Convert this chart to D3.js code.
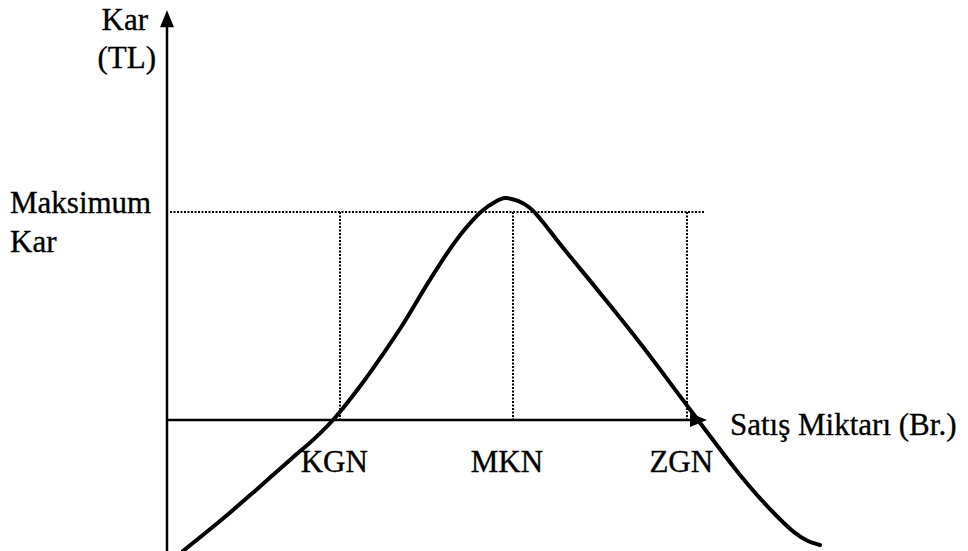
<!DOCTYPE html>
<html>
<head>
<meta charset="utf-8">
<script src="https://cdn.jsdelivr.net/npm/d3@7"></script>
<style>
  html, body { margin: 0; padding: 0; background: #fff; }
  svg { display: block; }
  text { font-family: "Liberation Serif", "Times New Roman", serif; font-size: 31px; fill: #000; stroke: #000; stroke-width: 0.35px; }
</style>
</head>
<body>
<svg width="968" height="551"></svg>
<script>
// Profit curve (sales quantity, profit); 100 = maximum profit level
const curveX = [2.97, 9.85, 16.36, 22.86, 27.51, 30.86, 35.5, 40.15, 44.24, 48.51, 52.23, 55.39, 58.55, 60.97, 62.83, 65.24, 67.47, 69.7, 73.05, 80.48, 87.92, 95.35, 100.93, 106.51, 112.08, 116.73, 119.14, 121.38];
const curveY = [-63, -48.6, -34.1, -19.2, -8.7, 0, 14.9, 31.7, 47.6, 65.9, 80.8, 91.8, 100.5, 104.8, 106.7, 105.3, 101.9, 95.7, 84.6, 61.1, 37, 11.5, -7.7, -26.4, -42.8, -54.3, -58.2, -60.1];

// reference points on the sales axis
const pointLabels = ['KGN', 'MKN', 'ZGN'];
const pointX = [32.2, 64.3, 96.7];
const maxProfit = 100;

const svg = d3.select('svg');

// scales: x axis runs 0..100, y axis spans the visible profit range
const x = d3.scaleLinear().domain([0, 100]).range([167, 705]);
const y = d3.scaleLinear().domain([0, 100]).range([420, 212]);
const yTop = 197, yBottom = -63;

// dotted guide lines
svg.append('line')
  .attr('x1', x(0) + 3).attr('x2', x(100))
  .attr('y1', Math.round(y(maxProfit))).attr('y2', Math.round(y(maxProfit)))
  .attr('stroke', '#000').attr('stroke-width', 2).attr('stroke-dasharray', '2,1.5');

svg.selectAll('.guide')
  .data(pointX)
  .join('line')
  .attr('class', 'guide')
  .attr('x1', d => Math.round(x(d))).attr('x2', d => Math.round(x(d)))
  .attr('y1', y(maxProfit)).attr('y2', y(0))
  .attr('stroke', '#000').attr('stroke-width', 2).attr('stroke-dasharray', '2,1.5');

// axes
svg.append('line')
  .attr('x1', x(0)).attr('x2', x(0))
  .attr('y1', y(yBottom) + 2).attr('y2', y(yTop) + 12)
  .attr('stroke', '#000').attr('stroke-width', 2.5);
svg.append('path')
  .attr('d', `M${x(0)},${y(yTop)} L${x(0) - 7},${y(yTop) + 17} L${x(0) + 7},${y(yTop) + 17} Z`)
  .attr('fill', '#000');

svg.append('line')
  .attr('x1', x(0)).attr('x2', x(100) - 12)
  .attr('y1', y(0)).attr('y2', y(0))
  .attr('stroke', '#000').attr('stroke-width', 2.5);
svg.append('path')
  .attr('d', `M${x(100) + 2},${y(0)} L${x(100) - 15},${y(0) - 7} L${x(100) - 15},${y(0) + 7} Z`)
  .attr('fill', '#000');

// profit curve
const line = d3.line()
  .x((d, i) => x(curveX[i]))
  .y((d, i) => y(curveY[i]))
  .curve(d3.curveCatmullRom.alpha(0.5));

svg.append('path')
  .datum(curveX)
  .attr('d', line)
  .attr('fill', 'none')
  .attr('stroke', '#000')
  .attr('stroke-width', 4)
  .attr('stroke-linecap', 'round')
  .attr('stroke-linejoin', 'round');

// labels
svg.append('text').attr('x', x(0) - 19).attr('y', 30).attr('text-anchor', 'end').text('Kar');
svg.append('text').attr('x', x(0) - 11).attr('y', 68).attr('text-anchor', 'end').text('(TL)');
svg.append('text').attr('x', 10).attr('y', y(maxProfit) + 1).text('Maksimum');
svg.append('text').attr('x', 10).attr('y', y(maxProfit) + 40).text('Kar');
svg.append('text').attr('x', x(100) + 25).attr('y', y(0) + 15).text('Satış Miktarı (Br.)');

svg.selectAll('.plabel')
  .data(pointLabels)
  .join('text')
  .attr('class', 'plabel')
  .attr('x', (d, i) => x(pointX[i]) - 6)
  .attr('y', y(0) + 52)
  .attr('text-anchor', 'middle')
  .text(d => d);
</script>
</body>
</html>
